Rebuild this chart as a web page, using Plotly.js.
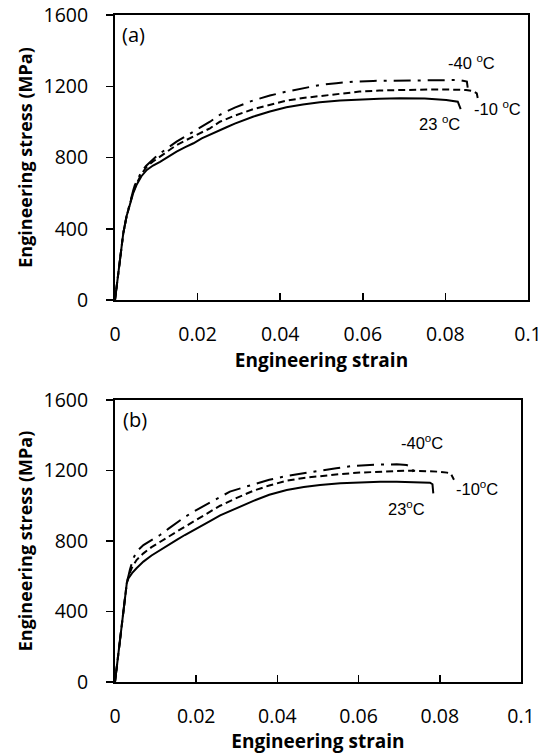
<!DOCTYPE html>
<html>
<head>
<meta charset="utf-8">
<script src="https://cdn.plot.ly/plotly-3.0.1.min.js"></script>
<style>
  html, body { margin: 0; padding: 0; background: #fff; }
  #chart { width: 543px; height: 754px; }
</style>
</head>
<body>
<div id="chart"></div>
<script>
// Panel (a): engineering stress-strain curves
const strainA23 = [0, 0.0008, 0.0015, 0.002, 0.0028, 0.0036, 0.0044, 0.0052, 0.0064, 0.0077, 0.0092, 0.0109, 0.0129, 0.0149, 0.017, 0.019, 0.021, 0.023, 0.0254, 0.027, 0.029, 0.031, 0.0334, 0.0375, 0.0415, 0.0455, 0.0496, 0.0545, 0.0592, 0.064, 0.069, 0.075, 0.0802, 0.083, 0.0837];
const stressA23 = [0, 150, 262, 374, 470, 543, 600, 645, 695, 730, 755, 776, 805, 833, 858, 880, 908, 930, 954, 970, 990, 1008, 1029, 1058, 1082, 1098, 1110, 1120, 1127, 1130, 1132, 1131, 1123, 1113, 1072];

const strainA10 = [0, 0.0008, 0.0015, 0.002, 0.0028, 0.0036, 0.0044, 0.0052, 0.0064, 0.0077, 0.0092, 0.0109, 0.0129, 0.0149, 0.017, 0.019, 0.023, 0.0254, 0.029, 0.0334, 0.0375, 0.0415, 0.0455, 0.0496, 0.0545, 0.0592, 0.064, 0.07, 0.076, 0.082, 0.085, 0.0868, 0.0876, 0.0879];
const stressA10 = [0, 150, 262, 374, 470, 543, 605, 652, 708, 748, 778, 805, 840, 870, 895, 917, 964, 1001, 1035, 1071, 1097, 1119, 1134, 1145, 1160, 1170, 1176, 1180, 1182, 1181, 1179, 1172, 1160, 1125];

const strainA40 = [0, 0.0008, 0.0015, 0.002, 0.0028, 0.0036, 0.0044, 0.0048, 0.0056, 0.0064, 0.0075, 0.0085, 0.0097, 0.0109, 0.0129, 0.0149, 0.017, 0.019, 0.021, 0.023, 0.0254, 0.029, 0.0334, 0.0375, 0.0415, 0.0455, 0.0496, 0.0536, 0.0576, 0.0625, 0.0681, 0.074, 0.079, 0.0834, 0.0852, 0.0854];
const stressA40 = [0, 150, 262, 374, 470, 550, 615, 645, 685, 720, 752, 776, 800, 823, 858, 889, 918, 945, 974, 1001, 1040, 1080, 1120, 1148, 1170, 1190, 1207, 1217, 1226, 1230, 1232, 1235, 1236, 1235, 1226, 1192];

// Panel (b): engineering stress-strain curves
const strainB23 = [0, 0.0029, 0.0033, 0.0042, 0.0053, 0.007, 0.009, 0.0111, 0.0132, 0.0152, 0.0172, 0.0193, 0.0213, 0.0234, 0.0259, 0.0275, 0.03, 0.0341, 0.038, 0.0423, 0.0465, 0.0505, 0.0555, 0.0603, 0.0653, 0.0694, 0.074, 0.0776, 0.0782, 0.0784];
const stressB23 = [0, 560, 588, 618, 645, 683, 718, 749, 778, 806, 834, 862, 888, 913, 945, 961, 987, 1028, 1062, 1089, 1106, 1118, 1127, 1133, 1136, 1136, 1134, 1131, 1122, 1070];

const strainB10 = [0, 0.0029, 0.0033, 0.0042, 0.0053, 0.007, 0.009, 0.0111, 0.0132, 0.0152, 0.0172, 0.0193, 0.0213, 0.0234, 0.0259, 0.03, 0.0341, 0.038, 0.0423, 0.0465, 0.0505, 0.0555, 0.0603, 0.0653, 0.0694, 0.0735, 0.077, 0.08, 0.0818, 0.0828, 0.0835];
const stressB10 = [0, 560, 600, 650, 692, 730, 765, 796, 825, 853, 881, 909, 938, 966, 1000, 1045, 1085, 1115, 1142, 1158, 1169, 1180, 1188, 1195, 1197, 1199, 1197, 1193, 1188, 1178, 1148];

const strainB40 = [0, 0.0029, 0.0033, 0.0037, 0.0045, 0.0053, 0.007, 0.009, 0.0111, 0.0132, 0.0152, 0.0172, 0.0193, 0.0213, 0.0234, 0.0259, 0.0283, 0.0315, 0.0341, 0.038, 0.0423, 0.0465, 0.0505, 0.0545, 0.0587, 0.064, 0.0694, 0.0718, 0.0732, 0.0735];
const stressB40 = [0, 560, 600, 640, 700, 739, 777, 806, 834, 870, 904, 936, 966, 992, 1017, 1050, 1080, 1103, 1121, 1147, 1169, 1186, 1199, 1213, 1226, 1233, 1235, 1231, 1220, 1192];

// Axis ticks
const strainTicks = [0, 0.02, 0.04, 0.06, 0.08, 0.1];
const strainTickText = ['0', '0.02', '0.04', '0.06', '0.08', '0.1'];
const stressTicks = [0, 400, 800, 1200, 1600];
const stressTickText = ['0', '400', '800', '1200', '1600'];

// Curve labels
const labelsA = ['-40 <sup>o</sup>C', '-10 <sup>o</sup>C', '23 <sup>o</sup>C'];
const labelsB = ['-40<sup>o</sup>C', '-10<sup>o</sup>C', '23<sup>o</sup>C'];

const solid = { color: '#000', width: 2, dash: 'solid' };
const dashed = { color: '#000', width: 2, dash: '7px,4px' };
const dashDot = { color: '#000', width: 2, dash: '17px,7px,3px,7px' };

const traces = [
  { x: strainA23, y: stressA23, xaxis: 'x', yaxis: 'y', mode: 'lines', line: solid, name: '23 °C' },
  { x: strainA10, y: stressA10, xaxis: 'x', yaxis: 'y', mode: 'lines', line: dashed, name: '-10 °C' },
  { x: strainA40, y: stressA40, xaxis: 'x', yaxis: 'y', mode: 'lines', line: dashDot, name: '-40 °C' },
  { x: strainB23, y: stressB23, xaxis: 'x2', yaxis: 'y2', mode: 'lines', line: solid, name: '23 °C' },
  { x: strainB10, y: stressB10, xaxis: 'x2', yaxis: 'y2', mode: 'lines', line: dashed, name: '-10 °C' },
  { x: strainB40, y: stressB40, xaxis: 'x2', yaxis: 'y2', mode: 'lines', line: dashDot, name: '-40 °C' }
];

const tickFont = { family: 'Open Sans, sans-serif', size: 19.5, color: '#000' };
const xTitleFont = { family: 'Open Sans, sans-serif', size: 19, color: '#000' };
const yTitleFont = { family: 'Open Sans, sans-serif', size: 18, color: '#000' };

function xAxis(domain, anchor) {
  return {
    domain: domain, anchor: anchor, range: [0, 0.1],
    tickvals: strainTicks, ticktext: strainTickText,
    ticks: 'inside', ticklen: 7, tickwidth: 1.5, tickcolor: '#000',
    ticklabelstandoff: 16,
    showline: true, mirror: true, linewidth: 2, linecolor: '#000',
    showgrid: false, zeroline: false, tickfont: tickFont,
    title: { text: '<b>Engineering strain</b>', font: xTitleFont, standoff: 3 }
  };
}
function yAxis(domain, anchor) {
  return {
    domain: domain, anchor: anchor, range: [0, 1600],
    tickvals: stressTicks, ticktext: stressTickText,
    ticks: 'outside', ticklen: 7, tickwidth: 1.5, tickcolor: '#000',
    ticklabelstandoff: 14,
    showline: true, mirror: true, linewidth: 2, linecolor: '#000',
    showgrid: false, zeroline: false, tickfont: tickFont,
    title: { text: '<b>Engineering stress (MPa)</b>', font: yTitleFont, standoff: 6 }
  };
}

const annFont = { family: 'Liberation Sans, Arial, sans-serif', size: 16.5, color: '#000' };
const panelFont = { family: 'Open Sans, sans-serif', size: 20, color: '#000' };
function ann(text, x, y, xr, yr, font, anchor) {
  return { text: text, x: x, y: y, xref: xr, yref: yr, showarrow: false,
           font: font, xanchor: anchor || 'center', yanchor: 'middle' };
}

const layout = {
  width: 543, height: 754,
  margin: { l: 115, r: 15, t: 15, b: 72 },
  paper_bgcolor: '#fff', plot_bgcolor: '#fff',
  showlegend: false,
  xaxis: xAxis([0, 1], 'y'),
  yaxis: yAxis([0.5727, 1], 'x'),
  xaxis2: xAxis([0, 0.983], 'y2'),
  yaxis2: yAxis([0, 0.4228], 'x2'),
  annotations: [
    ann('(a)', 0.0012, 1488, 'x', 'y', panelFont, 'left'),
    ann(labelsA[0], 0.0863, 1336, 'x', 'y', annFont),
    ann(labelsA[1], 0.0926, 1078, 'x', 'y', annFont),
    ann(labelsA[2], 0.0786, 994, 'x', 'y', annFont),
    ann('(b)', 0.0014, 1487, 'x2', 'y2', panelFont, 'left'),
    ann(labelsB[0], 0.0756, 1363, 'x2', 'y2', annFont),
    ann(labelsB[1], 0.0892, 1101, 'x2', 'y2', annFont),
    ann(labelsB[2], 0.0719, 987, 'x2', 'y2', annFont)
  ]
};

Plotly.newPlot('chart', traces, layout, { displayModeBar: false, staticPlot: true });
</script>
</body>
</html>
